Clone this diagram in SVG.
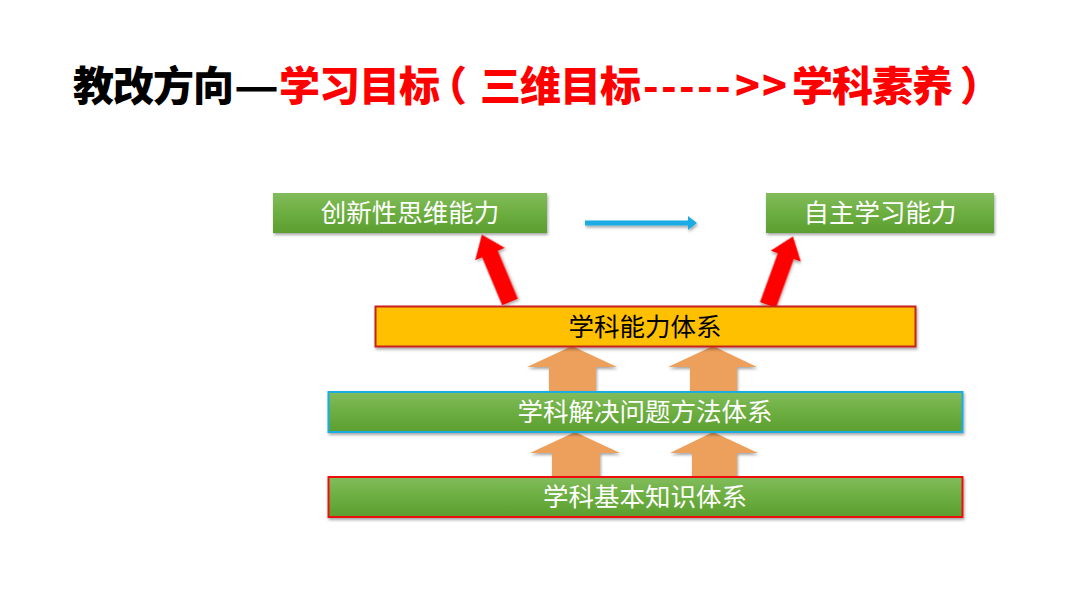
<svg xmlns="http://www.w3.org/2000/svg" width="1080" height="608" viewBox="0 0 1080 608">
  <defs>
    <linearGradient id="green" x1="0" y1="0" x2="0" y2="1">
      <stop offset="0" stop-color="#82bc5c"/>
      <stop offset="0.5" stop-color="#6cae40"/>
      <stop offset="1" stop-color="#5c9e2f"/>
    </linearGradient>
    <filter id="sh" x="-5%" y="-20%" width="110%" height="150%">
      <feDropShadow dx="1" dy="2" stdDeviation="1.5" flood-color="#000" flood-opacity="0.35"/>
    </filter>
  </defs>
  <style>
    .title { font-family: "Noto Sans CJK SC", "Liberation Sans", sans-serif; font-size: 41px; font-weight: 900; }
    .lbl { font-family: "Noto Sans CJK SC", "Liberation Sans", sans-serif; font-size: 25.5px; text-anchor: middle; }
    .w { fill: #ffffff; }
    .k { fill: #000000; }
    .gbox { fill: url(#green); filter: url(#sh); }
    .red { fill: #ff0000; filter: url(#sh); }
    .org { fill: #eda05b; filter: url(#sh); }
    .blue { fill: #1aace4; filter: url(#sh); }
  </style>
  <rect width="1080" height="608" fill="#ffffff"/>

  <g id="title">
    <text class="title" y="101">
      <tspan fill="#000000" x="73 113 153 193">教改方向</tspan><tspan fill="#000000" x="234" textLength="45" lengthAdjust="spacingAndGlyphs">—</tspan><tspan fill="#ff0000" x="279 319 359 399 426 480 520 560 600">学习目标（三维目标</tspan><tspan fill="#ff0000" x="643 661 679 697 715">-----</tspan><tspan fill="#ff0000" x="735 762">&gt;&gt;</tspan><tspan fill="#ff0000" x="792 832 872 912 960">学科素养）</tspan>
    </text>
  </g>

  <g id="connectors">
    <!-- red arrows -->
    <polygon class="red" transform="translate(510,302) rotate(-22.7)" points="-8.5,0 8.5,0 8.5,-52 16,-52 0,-73 -16,-52 -8.5,-52"/>
    <polygon class="red" transform="translate(768,305) rotate(20)" points="-8.5,0 8.5,0 8.5,-52 16,-52 0,-73 -16,-52 -8.5,-52"/>
    <!-- blue arrow -->
    <polygon class="blue" points="585,220.5 688,220.5 688,216 697,223 688,230 688,225.5 585,225.5"/>
    <!-- orange arrows upper -->
    <polygon class="org" points="549,391 596,391 596,367 617,367 572,346 527,367 549,367"/>
    <polygon class="org" points="690,391 737,391 737,367 757,367 713,346 668,367 690,367"/>
    <!-- orange arrows lower -->
    <polygon class="org" points="552,477 600,477 600,453 620,453 575,432 530,453 552,453"/>
    <polygon class="org" points="692,477 737,477 737,453 758,453 713,432 670,453 692,453"/>
  </g>

  <g id="node-creative">
    <rect class="gbox" x="273" y="193" width="274" height="40"/>
    <text class="lbl w" x="410" y="222">创新性思维能力</text>
  </g>
  <g id="node-autonomous">
    <rect class="gbox" x="766" y="193" width="228" height="40"/>
    <text class="lbl w" x="880" y="222">自主学习能力</text>
  </g>
  <g id="node-ability">
    <rect x="375.5" y="306.5" width="540" height="40" fill="#ffc000" stroke="#c8201e" stroke-width="2" filter="url(#sh)"/>
    <text class="lbl k" x="645" y="336">学科能力体系</text>
  </g>
  <g id="node-method">
    <rect class="gbox" x="328.5" y="392" width="634" height="40" stroke="#1aace4" stroke-width="2"/>
    <text class="lbl w" x="645" y="421">学科解决问题方法体系</text>
  </g>
  <g id="node-knowledge">
    <rect class="gbox" x="328.5" y="477" width="634" height="40" stroke="#ee1111" stroke-width="2"/>
    <text class="lbl w" x="645" y="506">学科基本知识体系</text>
  </g>
</svg>
